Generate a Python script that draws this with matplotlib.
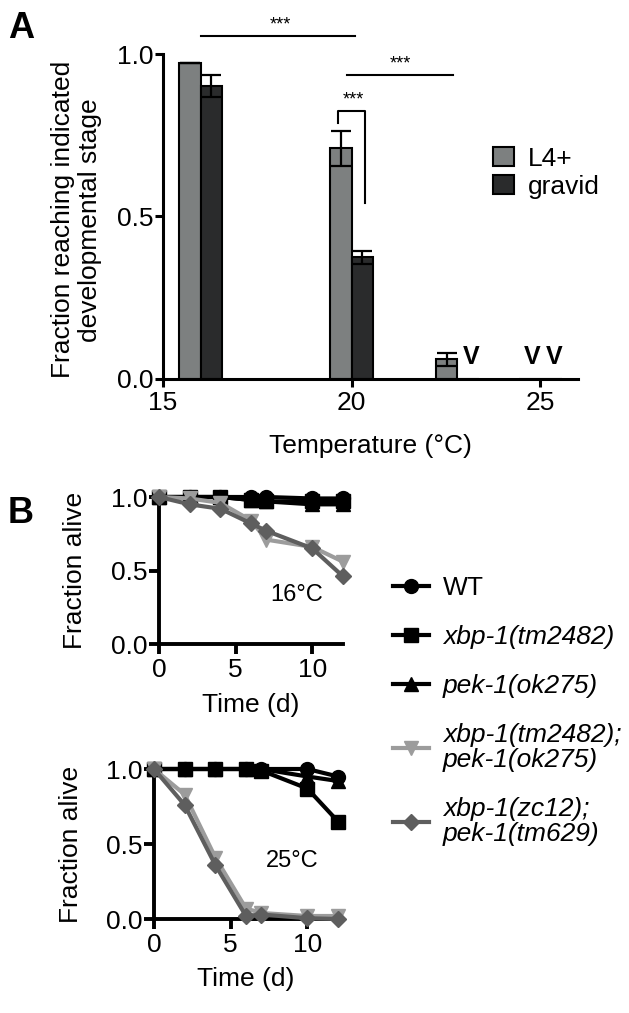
import matplotlib
matplotlib.use('Agg')
import matplotlib.pyplot as plt
from matplotlib.patches import Patch

plt.rcParams['font.family'] = ['Liberation Sans', 'DejaVu Sans']
plt.rcParams['font.size'] = 19

# Panel A: developmental stage reached vs temperature
temps = [16, 20, 22.8, 25]
l4_frac = [0.971, 0.710, 0.060, 0.0]
l4_err = [0.0, 0.054, 0.021, 0.0]
gravid_frac = [0.901, 0.375, 0.0, 0.0]
gravid_err = [0.034, 0.020, 0.0, 0.0]
# bars where no animal reached the stage ("V")
none_l4 = [False, False, False, True]
none_gravid = [False, False, True, True]

# Panel B: survival over time
days = [0, 2, 4, 6, 7, 10, 12]
wt_16 = [1.0, 1.0, 1.0, 1.0, 1.0, 0.99, 0.99]
xbp_16 = [1.0, 1.0, 1.0, 0.98, 0.97, 0.97, 0.97]
pek_16 = [1.0, 1.0, 1.0, 0.98, 0.97, 0.95, 0.95]
dbl_16 = [1.0, 0.99, 0.96, 0.84, 0.71, 0.66, 0.56]
zc_16 = [1.0, 0.95, 0.92, 0.82, 0.77, 0.65, 0.46]
wt_25 = [1.0, 1.0, 1.0, 1.0, 1.0, 1.0, 0.95]
xbp_25 = [1.0, 1.0, 1.0, 1.0, 0.99, 0.87, 0.65]
pek_25 = [1.0, 1.0, 1.0, 1.0, 1.0, 0.95, 0.92]
dbl_25 = [1.0, 0.83, 0.41, 0.07, 0.04, 0.02, 0.02]
zc_25 = [1.0, 0.76, 0.36, 0.02, 0.03, 0.005, 0.0]
strain_labels = ['WT', 'xbp-1(tm2482)', 'pek-1(ok275)',
                 'xbp-1(tm2482);\npek-1(ok275)', 'xbp-1(zc12);\npek-1(tm629)']

W, H = 629, 1013
fig = plt.figure(figsize=(W / 100, H / 100), dpi=100)


def frac_box(left, top, right, bottom):
    return [left / W, 1 - bottom / H, (right - left) / W, (bottom - top) / H]


def style_axes(ax, lw, ticklen):
    for s in ['top', 'right']:
        ax.spines[s].set_visible(False)
    for s in ['left', 'bottom']:
        ax.spines[s].set_linewidth(lw)
    ax.tick_params(direction='out', length=ticklen, width=lw)
    ax.tick_params(axis='y', pad=1)
    ax.tick_params(axis='x', pad=3)


# ---------------- Panel A ----------------
axA = fig.add_axes(frac_box(163, 54, 578, 379))
w = 0.57
l4_x = [t - w / 2 for t in temps]
gr_x = [t + w / 2 for t in temps]
axA.bar(l4_x, l4_frac, width=w, color='#7d8080', edgecolor='black', linewidth=1.5, label='L4+', zorder=2)
axA.bar(gr_x, gravid_frac, width=w, color='#2a2b2c', edgecolor='black', linewidth=1.5, label='gravid', zorder=2)
for x, v, e in zip(l4_x, l4_frac, l4_err):
    if v > 0:
        axA.errorbar(x, v, yerr=e, color='black', capsize=7, elinewidth=1.6, capthick=1.6, zorder=3)
for x, v, e in zip(gr_x, gravid_frac, gravid_err):
    if v > 0:
        axA.errorbar(x, v, yerr=e, color='black', capsize=7, elinewidth=1.6, capthick=1.6, zorder=3)
for x, flag in zip(l4_x + gr_x, none_l4 + none_gravid):
    if flag:
        axA.text(x + 0.08, 0.03, 'V', ha='center', va='bottom', fontsize=18, fontweight='bold')

axA.set_xlim(15, 26)
axA.set_ylim(0, 1.0)
axA.set_xticks([15, 20, 25])
axA.set_yticks([0, 0.5, 1.0])
axA.set_yticklabels(['0.0', '0.5', '1.0'])
style_axes(axA, 2.2, 6)
axA.set_xlabel('Temperature (°C)', va='top')
axA.xaxis.set_label_coords(0.5, -0.17)
axA.set_ylabel('Fraction reaching indicated\ndevelopmental stage', linespacing=1.15)
axA.yaxis.set_label_coords(-0.148, 0.49)

# significance annotations
sig = dict(color='black', lw=1.5, clip_on=False)
axA.plot([temps[0], temps[1] + 0.1], [1.055, 1.055], **sig)
axA.text((temps[0] + temps[1]) / 2 + 0.1, 1.062, '***', ha='center', va='bottom', fontsize=13)
axA.plot([temps[1] - 0.13, temps[2] - 0.1], [0.935, 0.935], **sig)
axA.text((temps[1] + temps[2]) / 2 - 0.1, 0.942, '***', ha='center', va='bottom', fontsize=13)
yb = l4_frac[1] + l4_err[1] + 0.062
axA.plot([l4_x[1] - 0.07, l4_x[1] - 0.07, gr_x[1] + 0.07, gr_x[1] + 0.07],
         [l4_frac[1] + l4_err[1] + 0.023, yb, yb, gravid_frac[1] + gravid_err[1] + 0.146], **sig)
axA.text(temps[1] + 0.05, yb + 0.006, '***', ha='center', va='bottom', fontsize=13)

legA = axA.legend(handles=[Patch(facecolor='#7d8080', edgecolor='black', linewidth=1.5, label='L4+'),
                           Patch(facecolor='#2a2b2c', edgecolor='black', linewidth=1.5, label='gravid')],
                  loc='center left', bbox_to_anchor=(0.77, 0.635), frameon=False,
                  handlelength=0.8, handleheight=0.7, handletextpad=0.5, labelspacing=0.15,
                  fontsize=19, borderaxespad=0)

# ---------------- Panel B ----------------
series_style = [
    dict(color='black', marker='o'),
    dict(color='black', marker='s'),
    dict(color='black', marker='^'),
    dict(color='#9c9c9c', marker='v'),
    dict(color='#5e5e5e', marker='D'),
]


def survival_panel(ax, curves, label):
    lines = []
    for ys, st, lab in zip(curves, series_style, strain_labels):
        ms = 8 if st['marker'] == 'D' else 10
        ln, = ax.plot(days, ys, lw=3, ms=ms, label=lab, clip_on=False, zorder=3, **st)
        lines.append(ln)
    ax.set_xlim(0, 12)
    ax.set_ylim(0, 1.0)
    ax.set_xticks([0, 5, 10])
    ax.set_yticks([0, 0.5, 1.0])
    ax.set_yticklabels(['0.0', '0.5', '1.0'])
    style_axes(ax, 2.8, 7)
    ax.set_xlabel('Time (d)', va='top')
    ax.set_ylabel('Fraction alive')
    ax.text(9, 0.33 if label == '16°C' else 0.39, label, ha='center', va='center', fontsize=17)
    return lines


axB1 = fig.add_axes(frac_box(159, 497, 343, 644))
handles = survival_panel(axB1, [wt_16, xbp_16, pek_16, dbl_16, zc_16], '16°C')
axB1.xaxis.set_label_coords(0.5, -0.33)
axB1.yaxis.set_label_coords(-0.39, 0.5)

axB2 = fig.add_axes(frac_box(154, 769, 338, 919))
survival_panel(axB2, [wt_25, xbp_25, pek_25, dbl_25, zc_25], '25°C')
axB2.xaxis.set_label_coords(0.5, -0.32)
axB2.yaxis.set_label_coords(-0.386, 0.5)

legB = fig.legend(handles=handles, loc='center left', bbox_to_anchor=(393 / W, 1 - 711 / H),
                  frameon=False, handlelength=1.35, handletextpad=0.55, labelspacing=0.95,
                  fontsize=19, borderaxespad=0, borderpad=0)
for i, t in enumerate(legB.get_texts()):
    t.set_linespacing(1.05)
    if i > 0:
        t.set_fontstyle('italic')

fig.text(8 / W, 1 - 11 / H, 'A', fontsize=26, fontweight='bold', va='top')
fig.text(8 / W, 1 - 496 / H, 'B', fontsize=26, fontweight='bold', va='top')

fig.savefig('out.png', dpi=100)
